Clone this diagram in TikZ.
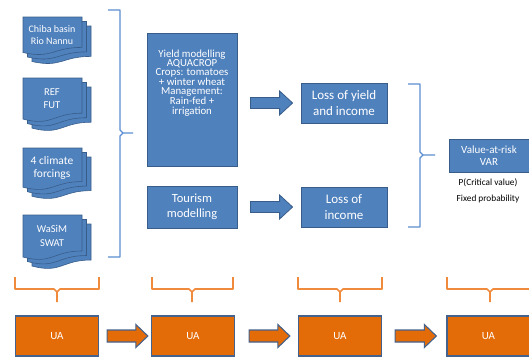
\documentclass[tikz,border=0pt]{standalone}
\usepackage{fontspec}
\setmainfont{Carlito}
\usetikzlibrary{calc}
\definecolor{ofblue}{HTML}{4F81BD}
\definecolor{ofbluedark}{HTML}{385D8A}
\definecolor{bracebl}{HTML}{5B8ED0}
\definecolor{oforange}{HTML}{E36C09}
\definecolor{bracor}{HTML}{F08A3C}
\definecolor{uaborder}{HTML}{44628C}
\newcommand{\docpagepath}[4]{% x0, ytop, w, h  (pixel sense, y down)
  (#1,-#2) -- (#1+#3,-#2) -- (#1+#3,-#2-0.80*#4)
  .. controls (#1+0.5*#3,-#2-0.80*#4) and (#1+0.5*#3,-#2-1.107*#4) .. (#1,-#2-0.934*#4) -- cycle}
\newcommand{\docstack}[6]{% name, ytop, h, font size, leading, text
  \path[docpage] \docpagepath{32}{#2-9}{59}{#3};
  \path[docpage] \docpagepath{27.5}{#2-4.5}{59}{#3};
  \path[docpage] \docpagepath{23}{#2}{59}{#3};
  \node[doctext, font=\fontsize{#4}{#5}\selectfont] (#1) at (52,-#2-0.47*#3) {#6};}
\begin{document}
\begin{tikzpicture}[x=1pt,y=1pt,
  bluebox/.style={draw=ofbluedark, fill=ofblue, line width=0.8pt, text=white, align=center, inner sep=0pt},
  uabox/.style={draw=uaborder, fill=oforange, line width=1.3pt, text=white, inner sep=0pt,
     minimum width=83pt, minimum height=40pt, font=\fontsize{11}{13}\selectfont},
  docpage/.style={draw=ofbluedark, fill=ofblue, line width=0.6pt},
  doctext/.style={text=white, align=center, inner sep=0pt},
  plaintext/.style={text=black, inner sep=0pt, font=\fontsize{9.3}{11}\selectfont},
  bbrace/.style={draw=bracebl, line width=1.3pt, line join=round},
  obrace/.style={draw=bracor, line width=1.6pt, line join=round},
  blockarrow/.style n args={3}{to path={let \p1=(\tikztostart), \p2=(\tikztotarget) in
     (\x1,\y1-#1) -- (\x2-#3,\y1-#1) -- (\x2-#3,\y1-#2) -- (\x2,\y1) -- (\x2-#3,\y1+#2)
     -- (\x2-#3,\y1+#1) -- (\x1,\y1+#1) -- cycle}},
  blarrow/.style={draw=ofbluedark, fill=ofblue, line width=0.8pt, blockarrow={5.5pt}{12pt}{13pt}},
  orarrow/.style={draw=uaborder, fill=oforange, line width=1.1pt, blockarrow={6pt}{11.5pt}{12pt}}
  ]
\useasboundingbox (0,0) rectangle (529,-357);

% document stacks
\docstack{doc1}{17}{38}{10}{11.5}{Chiba basin\\Rio Nannu}
\docstack{doc2}{78}{44}{10.5}{12.5}{REF\\FUT}
\docstack{doc3}{148}{42}{11.5}{12.7}{4 climate\\forcings}
\docstack{doc4}{215}{45}{10.5}{13.5}{WaSiM\\SWAT}

% left brace
\draw[bbrace] (108,-10) -- (120,-10) -- (120,-130) -- (123,-133) -- (133,-133);
\draw[bbrace] (123,-133) -- (120,-136) -- (120,-257) -- (108,-257);

% middle boxes
\node[bluebox, minimum width=90pt, minimum height=133pt] (yield) at (192,-99.5) {};
\node[text=white, align=center, inner sep=0pt, font=\fontsize{10.8}{9.3}\selectfont] (yieldtext)
  at ($(yield.center)+(0,16.5)$) {Yield modelling\\AQUACROP\\Crops: tomatoes\\+ winter wheat\\Management:\\Rain-fed +\\irrigation};
\node[bluebox, minimum width=90pt, minimum height=42pt, font=\fontsize{12.5}{15}\selectfont] (tour) at (192,-207) {Tourism\\modelling};

% loss boxes
\node[bluebox, minimum width=86pt, minimum height=40pt, font=\fontsize{13}{16}\selectfont] (lossY) at (344,-103) {Loss of yield\\and income};
\node[bluebox, minimum width=86pt, minimum height=40pt, font=\fontsize{13}{16}\selectfont] (lossI) at (344,-207) {Loss of\\income};

% blue block arrows
\path[blarrow] ($(yield.east |- lossY.west)+(13pt,0)$) to ($(lossY.west)+(-8pt,0)$);
\path[blarrow] ($(tour.east |- lossI.west)+(13pt,0)$) to ($(lossI.west)+(-8pt,0)$);

% right brace
\draw[bbrace] (408,-84) -- (420,-84) -- (420,-152) -- (423,-155) -- (435,-155);
\draw[bbrace] (423,-155) -- (420,-158) -- (420,-227) -- (408,-227);

% VAR
\node[bluebox, minimum width=80pt, minimum height=33pt, font=\fontsize{11}{12.5}\selectfont] (var) at (489,-155.5) {Value-at-risk\\VAR};
\node[plaintext] (pcrit) at (488,-183) {P(Critical value)};
\node[plaintext] (fixp) at (488,-199) {Fixed probability};

% orange braces
\draw[obrace] (15,-277) -- (15,-289) -- (54,-289) -- (57,-292) -- (57,-302);
\draw[obrace] (57,-292) -- (60,-289) -- (99,-289) -- (99,-277);
\draw[obrace] (152,-277) -- (152,-289) -- (189,-289) -- (192,-292) -- (192,-302);
\draw[obrace] (192,-292) -- (195,-289) -- (233,-289) -- (233,-277);
\draw[obrace] (298,-277) -- (298,-289) -- (337,-289) -- (340,-292) -- (340,-302);
\draw[obrace] (340,-292) -- (343,-289) -- (382,-289) -- (382,-277);
\draw[obrace] (447,-277) -- (447,-289) -- (487,-289) -- (490,-292) -- (490,-302);
\draw[obrace] (490,-292) -- (493,-289) -- (535,-289);

% UA boxes
\node[uabox] (ua1) at (57,-336) {UA};
\node[uabox] (ua2) at (193,-336) {UA};
\node[uabox] (ua3) at (340,-336) {UA};
\node[uabox] (ua4) at (488.5,-336) {UA};

% orange block arrows
\path[orarrow] ($(ua1.east)+(8pt,0)$) to ($(ua2.west)+(-3pt,0)$);
\path[orarrow] ($(ua2.east)+(14pt,0)$) to ($(ua3.west)+(-8pt,0)$);
\path[orarrow] ($(ua3.east)+(13pt,0)$) to ($(ua4.west)+(-10pt,0)$);
\end{tikzpicture}
\end{document}
